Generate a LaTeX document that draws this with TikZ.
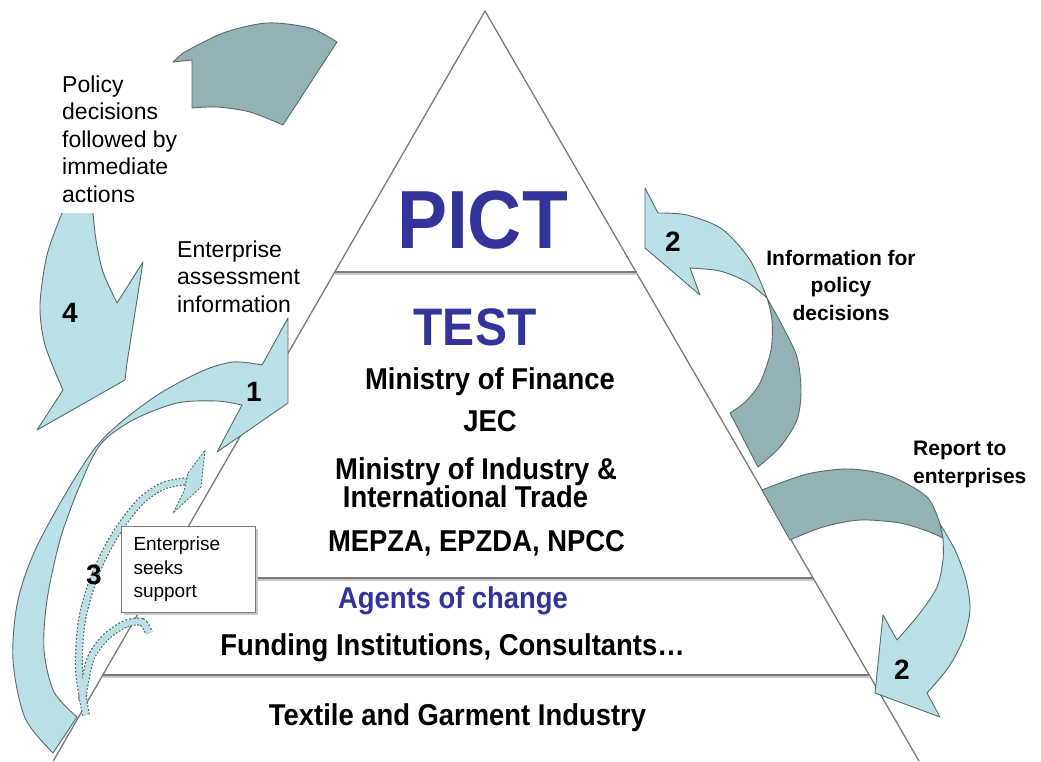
\documentclass[tikz,border=0pt]{standalone}
\usepackage{fontspec}
\setmainfont{Liberation Sans}
\usepackage{graphicx}
\definecolor{lightc}{HTML}{B9E0E4}
\definecolor{darkc}{HTML}{93B2B5}
\definecolor{edgec}{HTML}{5A6A6C}
\definecolor{pictblue}{HTML}{333399}
\definecolor{lvlline}{HTML}{7A7A7A}
\definecolor{lvlshadow}{HTML}{C8C8C8}
\newcommand{\tallbox}[1]{\scalebox{1}[1.1]{#1}}
\begin{document}
\begin{tikzpicture}[x=1pt,y=-1pt,
  lightarrow/.style={fill=lightc, draw=edgec, line width=0.9pt, line join=round},
  darkarrow/.style={fill=darkc, draw=edgec, line width=0.9pt, line join=round},
  trilines/.style={draw=lvlline, line width=1.3pt},
  level/.style={draw=lvlline, line width=1.8pt},
  levelshadow/.style={draw=lvlshadow, line width=1.8pt},
  bigtext/.style={font=\fontsize{27.4}{30}\selectfont\bfseries, inner sep=0pt, anchor=base},
  bluetext/.style={bigtext, text=pictblue},
  smalltext/.style={font=\fontsize{23}{27.5}\selectfont, align=left, inner sep=0pt, anchor=base west},
  sidetext/.style={font=\fontsize{21}{27.5}\selectfont\bfseries, inner sep=0pt, anchor=base},
  numtext/.style={font=\fontsize{28}{30}\selectfont\bfseries, inner sep=0pt},
  seekbox/.style={draw=lvlline, fill=white, line width=1pt, minimum width=134pt, minimum height=86pt,
     text width=110pt, inner xsep=12pt, inner ysep=0pt, align=left, font=\fontsize{19}{23.5}\selectfont},
  dashedge/.style={draw=edgec, line width=8pt, dash pattern=on 2pt off 1.6pt},
  dashfill/.style={draw=lightc, line width=5.6pt}
]
\useasboundingbox (0,0) rectangle (1041,761);
\fill[white] (0,0) rectangle (1041,761);

% pyramid
\coordinate (apex) at (485,11);
\coordinate (bl) at (53.3,761);
\coordinate (br) at (919,761);
\draw[trilines] (bl) -- (apex) -- (br);
\coordinate (l1a) at (334.5,272); \coordinate (l1b) at (636.5,272);
\coordinate (l2a) at (158.6,578); \coordinate (l2b) at (813.3,578);
\coordinate (l3a) at (102.8,675); \coordinate (l3b) at (869.5,675);
\draw[levelshadow] ([yshift=-2pt]l1a) -- ([yshift=-2pt]l1b);
\draw[levelshadow] ([yshift=-2pt]l2a) -- ([yshift=-2pt]l2b);
\draw[levelshadow] ([yshift=-2pt]l3a) -- ([yshift=-2pt]l3b);
\draw[level] (l1a) -- (l1b);
\draw[level] (l2a) -- (l2b);
\draw[level] (l3a) -- (l3b);

% arrow 4 (left, light)
\fill[lightc] (62,213) -- plot[smooth] coordinates {(62,213) (47,255) (40,305) (45,345) (63,390)} -- (37,430) -- (125,380) -- (127,363) -- (143,262) -- (117,303) -- plot[smooth] coordinates {(117,303) (103,272) (96,240) (93,213)} -- cycle;
\draw[edgec, line width=0.9pt, line join=round] plot[smooth] coordinates {(62,213) (47,255) (40,305) (45,345) (63,390)} -- (37,430) -- (125,380) -- (127,363) -- (143,262) -- (117,303) -- plot[smooth] coordinates {(117,303) (103,272) (96,240) (93,213)};

% top dark part
\filldraw[darkarrow] (173,62) -- (192,60) -- (192,108) -- plot[smooth] coordinates {(192,108) (217,107) (250,112) (283,125)} -- (337,42) -- plot[smooth] coordinates {(337,42) (310,28) (267,23) (223,33) (183,53)} -- cycle;

% dashed arrow 3
\draw[dashedge] plot[smooth] coordinates {(86,715) (79,670) (82,620) (95,575) (115,535) (140,502) (163,486) (187,481)};
\draw[dashedge] plot[smooth] coordinates {(82,700) (90,660) (105,638) (125,624) (142,622) (149,633)};
\draw[dashfill] plot[smooth] coordinates {(86,715) (79,670) (82,620) (95,575) (115,535) (140,502) (163,486) (187,481)};
\draw[dashfill] plot[smooth] coordinates {(82,700) (90,660) (105,638) (125,624) (142,622) (149,633)};
\filldraw[fill=lightc, draw=edgec, line width=0.9pt, dash pattern=on 2pt off 1.6pt] (188,473) -- (205,450) -- (201,487) -- (173,513) -- (184,491) -- cycle;

% arrow 1 (big light)
\filldraw[lightarrow] plot[smooth] coordinates {(53,753) (25,718) (13,660) (18,600) (40,540) (95,448) (150,400) (200,372) (233,362) (262,365)} -- (288,318) -- (288,403) -- (217,452) -- (242,405) -- plot[smooth] coordinates {(242,405) (217,401) (177,403) (133,420) (100,445) (78,490) (60,540) (47,600) (44,650) (54,692) (77,717)} -- cycle;

% arrow 2 upper (information for policy decisions)
\filldraw[darkarrow] plot[smooth] coordinates {(767,298) (783,327) (797,357) (801,390) (797,420) (780,447) (758,467)} -- (730,413) -- plot[smooth] coordinates {(730,413) (745,402) (760,383) (771,350) (772,320) (767,298)} -- cycle;
\filldraw[lightarrow] (658,213) -- (645,188) -- (645,248) -- (700,295) -- (690,268) -- plot[smooth] coordinates {(690,268) (720,271) (747,282) (767,298)} -- plot[smooth] coordinates {(767,298) (750,260) (722,229) (687,215) (658,213)} -- cycle;

% arrow 2 lower (report to enterprises)
\filldraw[darkarrow] (762,490) -- (790,540) -- plot[smooth] coordinates {(790,540) (823,527) (860,520) (900,523) (927,531) (943,538)} -- (940,524) -- plot[smooth] coordinates {(940,524) (927,497) (890,476) (850,469) (807,474) (762,490)} -- cycle;
\filldraw[lightarrow] plot[smooth] coordinates {(940,524) (955,550) (966,580) (970,610) (963,640) (948,668) (927,693)} -- (940,717) -- (875,693) -- (883,615) -- (897,640) -- plot[smooth] coordinates {(897,640) (920,613) (937,587) (943,560) (943,538)} -- cycle;

% support box
\fill[lvlshadow] (124,612) rectangle (258,615);
\fill[lvlshadow] (255,529) rectangle (258,615);
\node[seekbox, anchor=north west] (seek) at (121,526) {Enterprise\\seeks\\support};

% pyramid texts
\node[bluetext, font=\fontsize{75}{80}\selectfont\bfseries] (pict) at (482.5,248) {\tallbox{PICT}};
\node[bluetext, font=\fontsize{48}{52}\selectfont\bfseries] (test) at (475,345) {\tallbox{TEST}};
\node[bigtext] (mof) at (490,389) {\tallbox{Ministry of Finance}};
\node[bigtext] (jec) at (490,431) {\tallbox{JEC}};
\node[bigtext] (moi) at (476,479) {\tallbox{Ministry of Industry \&}};
\node[bigtext] (intl) at (465.5,507) {\tallbox{International Trade}};
\node[bigtext] (mep) at (476.5,551) {\tallbox{MEPZA, EPZDA, NPCC}};
\node[bluetext] (agents) at (453,608) {\tallbox{Agents of change}};
\node[bigtext] (fund) at (452.5,655) {\tallbox{Funding Institutions, Consultants\ldots}};
\node[bigtext] (tex) at (457.5,725) {\tallbox{Textile and Garment Industry}};

% side texts (anchor = baseline of the last line)
\node[smalltext] (policy) at (62,202) {Policy\\decisions\\followed by\\immediate\\actions};
\node[smalltext] (assess) at (177,312) {Enterprise\\assessment\\information};
\node[sidetext, align=center] (info) at (841,320) {Information for\\policy\\decisions};
\node[sidetext, align=left, anchor=base west] (report) at (913,483) {Report to\\enterprises};

% numbers
\node[numtext] (n4) at (70,313) {4};
\node[numtext] (n1) at (254,392) {1};
\node[numtext] (n3) at (94,575) {3};
\node[numtext] (n2a) at (673,242) {2};
\node[numtext] (n2b) at (902,670) {2};
\end{tikzpicture}
\end{document}
